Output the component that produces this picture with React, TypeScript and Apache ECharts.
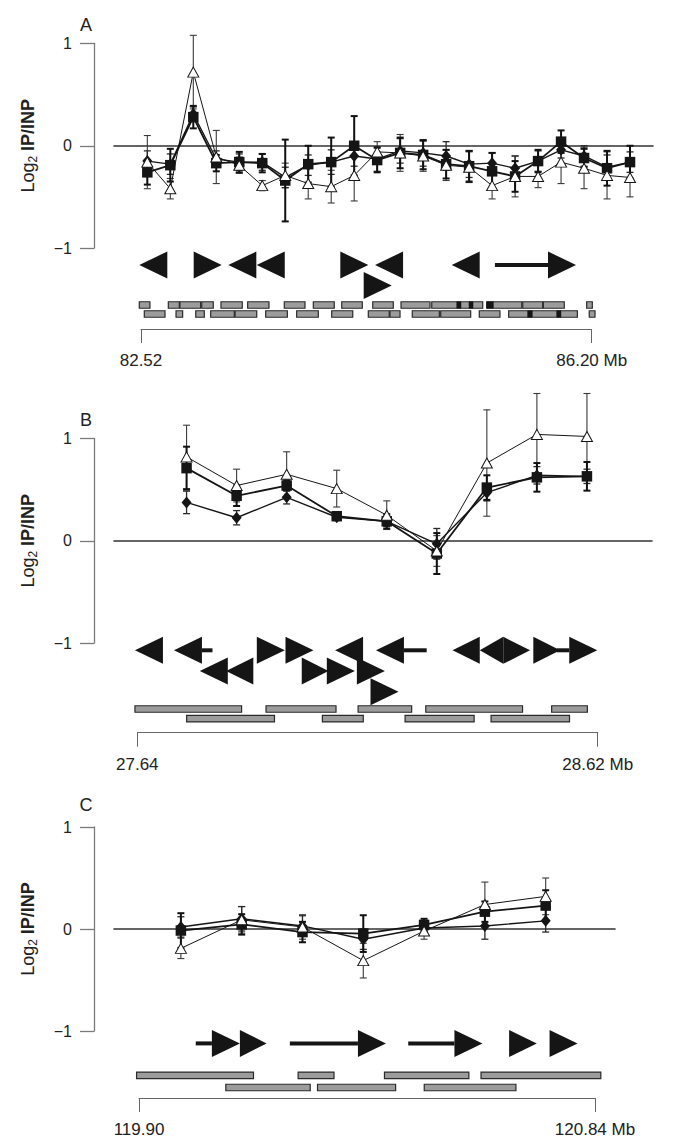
import React, { useEffect, useRef } from "react";
import * as echarts from "echarts";

const FONT = "'Liberation Sans', Arial, Helvetica, sans-serif";

// ---------- Panel A: ChIP values (log2 IP/INP) at 22 probes ----------
const aSquare = [-0.26, -0.19, 0.28, -0.17, -0.16, -0.17, -0.34, -0.18, -0.16, 0.0, -0.14, -0.07, -0.09, -0.18, -0.2, -0.25, -0.3, -0.15, 0.04, -0.12, -0.22, -0.16];
const aSquareErr = [0.12, 0.16, 0.11, 0.08, 0.1, 0.09, 0.4, 0.18, 0.24, 0.29, 0.12, 0.15, 0.14, 0.14, 0.15, 0.18, 0.15, 0.11, 0.11, 0.09, 0.17, 0.16];
const aDiamond = [-0.15, -0.18, 0.31, -0.13, -0.16, -0.16, -0.31, -0.19, -0.16, -0.1, -0.13, -0.05, -0.07, -0.1, -0.18, -0.17, -0.22, -0.15, -0.04, -0.1, -0.21, -0.16];
const aDiamondErr = [0.1, 0.1, 0.07, 0.08, 0.08, 0.08, 0.1, 0.1, 0.12, 0.1, 0.12, 0.12, 0.13, 0.14, 0.13, 0.1, 0.12, 0.1, 0.08, 0.1, 0.12, 0.1];
const aTriangle = [-0.16, -0.42, 0.72, -0.11, -0.19, -0.39, -0.29, -0.37, -0.4, -0.29, -0.06, -0.07, -0.1, -0.19, -0.21, -0.39, -0.3, -0.3, -0.16, -0.22, -0.29, -0.31];
const aTriangleErr = [0.26, 0.1, 0.36, 0.26, 0.08, 0.05, 0.12, 0.15, 0.16, 0.25, 0.1, 0.18, 0.15, 0.15, 0.15, 0.13, 0.2, 0.11, 0.21, 0.2, 0.23, 0.19];

// genes in panel A: [tail/base Mb, tip Mb, lane]
const aArrows = [
  [82.743, 82.506, 0], [82.947, 83.179, 0], [83.465, 83.233, 0], [83.696, 83.465, 0],
  [84.145, 84.376, 0], [84.662, 84.431, 0], [84.335, 84.567, 1], [85.288, 85.057, 0],
  [85.41, 86.072, 0],
];
// transcripts / probes (grey boxes): [start Mb, end Mb, lane]
const aBars = [
  [82.506, 82.593, 0], [82.743, 82.833, 0], [82.838, 83.007, 0], [83.016, 83.11, 0],
  [83.173, 83.347, 0], [83.391, 83.565, 0], [83.69, 83.859, 0], [83.927, 84.098, 0],
  [84.159, 84.327, 0], [84.412, 84.58, 0], [84.643, 84.88, 0], [84.894, 85.31, 0],
  [85.343, 85.629, 0], [85.637, 85.8, 0], [85.805, 85.976, 0], [86.159, 86.205, 0],
  [82.547, 82.716, 1], [82.806, 82.86, 1], [82.967, 83.037, 1], [83.089, 83.282, 1],
  [83.288, 83.465, 1], [83.538, 83.715, 1], [83.791, 83.968, 1], [84.077, 84.249, 1],
  [84.376, 84.547, 1], [84.553, 84.635, 1], [84.735, 84.956, 1], [84.967, 85.212, 1],
  [85.282, 85.451, 1], [85.522, 86.083, 1], [86.18, 86.227, 1],
];
const aMarks = [
  [85.098, 85.133, 0], [85.198, 85.231, 0], [85.343, 85.397, 0],
  [85.677, 85.715, 1], [85.914, 85.949, 1],
];

// ---------- Panel B ----------
const bSquare = [0.71, 0.44, 0.54, 0.24, 0.19, -0.125, 0.52, 0.62, 0.63];
const bSquareErr = [0.21, 0.1, 0.05, 0.03, 0.07, 0.2, 0.12, 0.14, 0.14];
const bDiamond = [0.375, 0.225, 0.425, 0.23, 0.19, -0.03, 0.47, 0.64, 0.63];
const bDiamondErr = [0.11, 0.07, 0.065, 0.03, 0.05, 0.15, 0.08, 0.085, 0.07];
const bTriangle = [0.82, 0.54, 0.65, 0.51, 0.25, -0.1, 0.76, 1.04, 1.02];
const bTriangleErr = [0.31, 0.16, 0.22, 0.18, 0.14, 0.15, 0.52, 0.4, 0.42];

const bArrows = [
  [27.695, 27.635, 0], [27.8, 27.718, 0], [27.894, 27.954, 0], [27.954, 28.015, 0],
  [28.121, 28.061, 0], [28.256, 28.148, 0], [28.369, 28.311, 0], [28.419, 28.369, 0],
  [28.419, 28.476, 0], [28.483, 28.54, 0], [28.533, 28.619, 0],
  [27.834, 27.773, 1], [27.887, 27.829, 1], [27.99, 28.047, 1], [28.043, 28.103, 1],
  [28.107, 28.167, 1], [28.135, 28.196, 2],
];
const bBars = [
  [27.635, 27.862, 0], [27.914, 28.063, 0], [28.11, 28.224, 0], [28.254, 28.46, 0], [28.522, 28.598, 0],
  [27.745, 27.932, 1], [28.034, 28.121, 1], [28.21, 28.357, 1], [28.393, 28.56, 1],
];

// ---------- Panel C ----------
const cSquare = [-0.015, 0.045, -0.03, -0.045, 0.04, 0.17, 0.23];
const cSquareErr = [0.17, 0.1, 0.1, 0.18, 0.06, 0.1, 0.15];
const cDiamond = [0.02, 0.1, 0.03, -0.1, 0.01, 0.03, 0.08];
const cDiamondErr = [0.1, 0.12, 0.1, 0.1, 0.05, 0.13, 0.11];
const cTriangle = [-0.19, 0.09, 0.02, -0.31, -0.02, 0.24, 0.32];
const cTriangleErr = [0.1, 0.13, 0.12, 0.17, 0.08, 0.22, 0.18];

const cArrows = [
  [120.017, 120.108, 0], [120.108, 120.163, 0], [120.211, 120.409, 0],
  [120.455, 120.608, 0], [120.663, 120.72, 0], [120.746, 120.804, 0],
];
const cBars = [
  [119.895, 120.136, 0], [120.228, 120.302, 0], [120.406, 120.58, 0], [120.605, 120.852, 0],
  [120.079, 120.253, 1], [120.268, 120.429, 1], [120.488, 120.677, 1],
];

const regionStart = [82.52, 27.64, 119.9];
const regionEnd = [86.2, 28.62, 120.84];
const panelLetters = ["A", "B", "C"];

// ---------- layout (positions / sizes only) ----------
const LAYOUT = [
  { dataTop: 43.5, dataBottom: 248, dataRight: 653, xMin: -0.45, xMax: 23, letterY: 25, arrowY0: 265, arrowPitch: 20.5, barY0: 305, barPitch: 9, bracketY: 329, trackLeft: 141, trackRight: 591.7 },
  { dataTop: 438.5, dataBottom: 643, dataRight: 652, xMin: -0.45, xMax: 10.3, letterY: 420, arrowY0: 650.3, arrowPitch: 20.7, barY0: 709, barPitch: 9.7, bracketY: 732.7, trackLeft: 137.3, trackRight: 597.7 },
  { dataTop: 827, dataBottom: 1031, dataRight: 615, xMin: -0.1, xMax: 8.14, letterY: 805, arrowY0: 1043.4, arrowPitch: 20, barY0: 1075.3, barPitch: 12.2, bracketY: 1099, trackLeft: 139, trackRight: 595 },
];
const DATA_LEFT = 114;
const HEAD_W = 28;
const HEAD_H = 27;
const BAR_H = 6.5;

const PANELS = [
  { sq: aSquare, sqE: aSquareErr, di: aDiamond, diE: aDiamondErr, tr: aTriangle, trE: aTriangleErr, arrows: aArrows, bars: aBars, marks: aMarks },
  { sq: bSquare, sqE: bSquareErr, di: bDiamond, diE: bDiamondErr, tr: bTriangle, trE: bTriangleErr, arrows: bArrows, bars: bBars, marks: [] as number[][] },
  { sq: cSquare, sqE: cSquareErr, di: cDiamond, diE: cDiamondErr, tr: cTriangle, trE: cTriangleErr, arrows: cArrows, bars: cBars, marks: [] as number[][] },
];

function errRender(color: string, lw: number) {
  return (params: any, api: any) => {
    const x = api.value(0), y = api.value(1), e = api.value(2);
    const p1 = api.coord([x, y + e]);
    const p2 = api.coord([x, y - e]);
    const c = 3.5;
    const st = { stroke: color, lineWidth: lw };
    return {
      type: "group",
      children: [
        { type: "line", shape: { x1: p1[0], y1: p1[1], x2: p2[0], y2: p2[1] }, style: st },
        { type: "line", shape: { x1: p1[0] - c, y1: p1[1], x2: p1[0] + c, y2: p1[1] }, style: st },
        { type: "line", shape: { x1: p2[0] - c, y1: p2[1], x2: p2[0] + c, y2: p2[1] }, style: st },
      ],
    };
  };
}

function arrowRender(L: any) {
  return (params: any, api: any) => {
    const from = api.value(0), to = api.value(1), lane = api.value(2);
    const x0 = api.coord([from, 0])[0];
    const x1 = api.coord([to, 0])[0];
    const yc = L.arrowY0 + lane * L.arrowPitch;
    const dir = x1 >= x0 ? 1 : -1;
    const len = Math.abs(x1 - x0);
    const hw = Math.min(HEAD_W, len);
    const base = x1 - dir * hw;
    const children: any[] = [
      { type: "polygon", shape: { points: [[x1, yc], [base, yc - HEAD_H / 2], [base, yc + HEAD_H / 2]] }, style: { fill: "#151515" } },
    ];
    if (len > hw + 3) {
      children.push({ type: "line", shape: { x1: x0, y1: yc, x2: base, y2: yc }, style: { stroke: "#151515", lineWidth: 4 } });
    }
    return { type: "group", children };
  };
}

function barRender(L: any, fill: string, stroke: string, lw: number) {
  return (params: any, api: any) => {
    const from = api.value(0), to = api.value(1), lane = api.value(2);
    const x0 = api.coord([from, 0])[0];
    const x1 = api.coord([to, 0])[0];
    const yc = L.barY0 + lane * L.barPitch;
    return {
      type: "rect",
      shape: { x: x0, y: yc - BAR_H / 2, width: x1 - x0, height: BAR_H },
      style: { fill, stroke, lineWidth: lw },
    };
  };
}

function buildOption() {
  const grid: any[] = [];
  const xAxis: any[] = [];
  const yAxis: any[] = [];
  const series: any[] = [];
  const graphic: any[] = [];

  PANELS.forEach((P, p) => {
    const L = LAYOUT[p];
    const gData = p * 2;
    const gTrack = p * 2 + 1;
    grid.push({ left: DATA_LEFT, top: L.dataTop, width: L.dataRight - DATA_LEFT, height: L.dataBottom - L.dataTop, containLabel: false });
    const trackTop = L.arrowY0 - 22;
    grid.push({ left: L.trackLeft, top: trackTop, width: L.trackRight - L.trackLeft, height: L.bracketY - trackTop, containLabel: false });

    xAxis.push({
      gridIndex: gData, type: "value", min: L.xMin, max: L.xMax,
      axisLine: { show: true, onZero: true, lineStyle: { color: "#333", width: 1.6 } },
      axisTick: { show: false }, axisLabel: { show: false }, splitLine: { show: false },
    });
    yAxis.push({
      gridIndex: gData, type: "value", min: -1, max: 1, interval: 1, offset: 20,
      axisLine: { show: true, onZero: false, lineStyle: { color: "#7a7a7a", width: 1.3 } },
      axisTick: { show: true, length: 14, lineStyle: { color: "#7a7a7a", width: 1.3 } },
      axisLabel: {
        margin: 22, fontSize: 16, color: "#222", fontFamily: FONT,
        formatter: (v: number) => (v < 0 ? "\u2212" + Math.abs(v) : String(v)),
      },
      splitLine: { show: false },
    });

    const s = regionStart[p], e = regionEnd[p];
    xAxis.push({
      gridIndex: gTrack, type: "value", min: s, max: e, position: "bottom",
      axisLine: { show: true, onZero: false, lineStyle: { color: "#666", width: 1 } },
      axisTick: { show: true, length: 14, inside: false, customValues: [s, e], lineStyle: { color: "#666", width: 1 } },
      axisLabel: {
        show: true, customValues: [s, e], margin: 23, fontSize: 17, color: "#222", fontFamily: FONT,
        showMinLabel: true, showMaxLabel: true,
        formatter: (v: number) => (Math.abs(v - e) < 1e-6 ? v.toFixed(2) + " Mb" : v.toFixed(2)),
      },
      splitLine: { show: false },
    });
    yAxis.push({ gridIndex: gTrack, type: "value", min: 0, max: 3, show: false });

    // error bars
    const errSeries = (vals: number[], errs: number[], color: string, lw: number, z: number) => ({
      type: "custom", xAxisIndex: gData, yAxisIndex: gData, clip: false, silent: true, z,
      renderItem: errRender(color, lw),
      encode: { x: 0, y: 1 },
      data: vals.map((v, i) => [i + 1, v, errs[i]]),
    });
    series.push(errSeries(P.tr, P.trE, "#3a3a3a", 1.1, 2));
    series.push(errSeries(P.di, P.diE, "#2a2a2a", 1.3, 2));
    series.push(errSeries(P.sq, P.sqE, "#111", 2, 2));

    series.push({
      type: "line", xAxisIndex: gData, yAxisIndex: gData, clip: false, silent: true, z: 4,
      data: P.sq.map((v, i) => [i + 1, v]),
      symbol: "rect", symbolSize: 10.5,
      itemStyle: { color: "#151515" }, lineStyle: { color: "#151515", width: 1.8 },
    });
    series.push({
      type: "line", xAxisIndex: gData, yAxisIndex: gData, clip: false, silent: true, z: 5,
      data: P.di.map((v, i) => [i + 1, v]),
      symbol: "diamond", symbolSize: [10, 12],
      itemStyle: { color: "#151515" }, lineStyle: { color: "#151515", width: 1.4 },
    });
    series.push({
      type: "line", xAxisIndex: gData, yAxisIndex: gData, clip: false, silent: true, z: 6,
      data: P.tr.map((v, i) => [i + 1, v]),
      symbol: "triangle", symbolSize: [11, 10],
      itemStyle: { color: "#fff", borderColor: "#151515", borderWidth: 1 },
      lineStyle: { color: "#151515", width: 1 },
    });

    // gene track
    series.push({
      type: "custom", xAxisIndex: gTrack, yAxisIndex: gTrack, clip: false, silent: true, z: 3,
      renderItem: arrowRender(L), encode: { x: [0, 1] }, data: P.arrows,
    });
    series.push({
      type: "custom", xAxisIndex: gTrack, yAxisIndex: gTrack, clip: false, silent: true, z: 3,
      renderItem: barRender(L, "#9c9c9c", "#2a2a2a", 1.2), encode: { x: [0, 1] }, data: P.bars,
    });
    if (P.marks.length) {
      series.push({
        type: "custom", xAxisIndex: gTrack, yAxisIndex: gTrack, clip: false, silent: true, z: 4,
        renderItem: barRender(L, "#151515", "#151515", 0.5), encode: { x: [0, 1] }, data: P.marks,
      });
    }

    graphic.push({
      type: "text", x: 86, y: L.letterY,
      style: { text: panelLetters[p], font: `18px ${FONT}`, fill: "#222", textAlign: "center", textVerticalAlign: "middle" },
    });
    const zeroY = L.dataTop + (L.dataBottom - L.dataTop) / 2;
    graphic.push({
      type: "text", x: 28, y: zeroY, rotation: Math.PI / 2,
      style: {
        text: "{a|Log}{s|2}{b| IP/INP}",
        textAlign: "center", textVerticalAlign: "middle", fill: "#222",
        rich: {
          a: { fontSize: 18, fontFamily: FONT, lineHeight: 22, verticalAlign: "middle", fill: "#222" },
          s: { fontSize: 12, fontFamily: FONT, lineHeight: 12, verticalAlign: "bottom", fill: "#222" },
          b: { fontSize: 18, fontFamily: FONT, fontWeight: "bold", lineHeight: 22, verticalAlign: "middle", fill: "#222" },
        },
      },
    });
  });

  return { animation: false, backgroundColor: "#fff", grid, xAxis, yAxis, series, graphic };
}

export default function App() {
  const ref = useRef<HTMLDivElement>(null);
  useEffect(() => {
    if (!ref.current) return;
    const chart = echarts.init(ref.current, undefined, { renderer: "svg" });
    chart.setOption(buildOption() as any);
    return () => chart.dispose();
  }, []);
  return (
    <div
      ref={ref}
      style={{ position: "absolute", left: 0, top: 0, width: 676, height: 1138, background: "#fff" }}
    />
  );
}
